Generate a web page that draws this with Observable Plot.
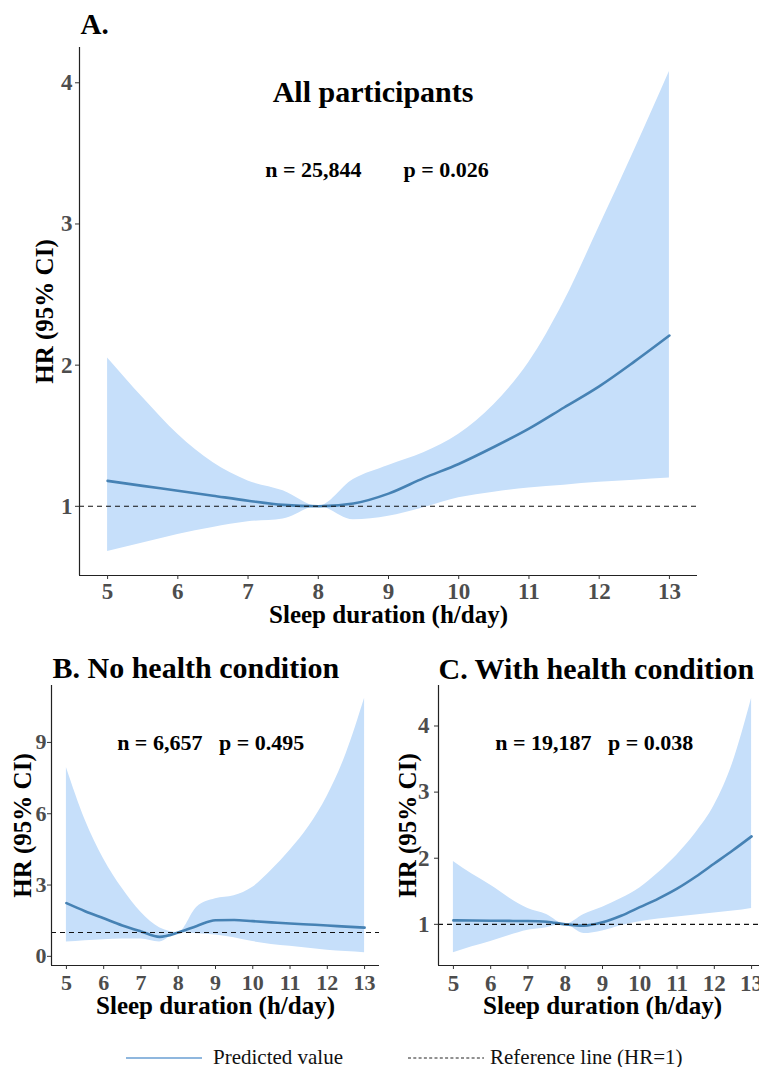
<!DOCTYPE html>
<html>
<head>
<meta charset="utf-8">
<script src="https://cdn.jsdelivr.net/npm/d3@7"></script>
<script src="https://cdn.jsdelivr.net/npm/@observablehq/plot@0.6"></script>
<style>
html, body { margin: 0; padding: 0; background: #fff; }
#wrap { position: relative; width: 759px; height: 1067px; overflow: hidden; background: #fff; }
</style>
</head>
<body>
<div id="wrap"></div>
<script>
// ---------- data ----------
const hours = [5, 5.5, 6, 6.5, 7, 7.5, 8, 8.5, 9, 9.5, 10, 10.5, 11, 11.5, 12, 12.5, 13];

const predA  = [1.18, 1.145, 1.11, 1.075, 1.04, 1.01, 1.0, 1.02, 1.09, 1.2, 1.3, 1.42, 1.55, 1.7, 1.85, 2.025, 2.21];
const lowerA = [0.68, 0.74, 0.80, 0.85, 0.89, 0.91, 1.0, 0.905, 0.93, 0.99, 1.06, 1.10, 1.13, 1.15, 1.17, 1.185, 1.2];
const upperA = [2.05, 1.77, 1.51, 1.31, 1.18, 1.11, 1.0, 1.19, 1.29, 1.38, 1.51, 1.72, 2.02, 2.45, 2.98, 3.52, 4.08];

const predB  = [2.24, 1.9, 1.6, 1.3, 1.05, 0.82, 1.0, 1.28, 1.52, 1.53, 1.48, 1.43, 1.38, 1.34, 1.3, 1.25, 1.21];
const lowerB = [0.6, 0.66, 0.7, 0.73, 0.73, 0.6, 1.0, 0.95, 0.9, 0.78, 0.62, 0.5, 0.42, 0.34, 0.26, 0.2, 0.15];
const upperB = [7.95, 5.75, 4.1, 2.85, 1.85, 1.2, 1.0, 2.07, 2.42, 2.55, 2.91, 3.62, 4.46, 5.45, 6.75, 8.5, 10.86];

const predC  = [1.06, 1.058, 1.055, 1.052, 1.05, 1.04, 1.0, 0.98, 1.03, 1.13, 1.26, 1.39, 1.54, 1.72, 1.92, 2.12, 2.33];
const lowerC = [0.57, 0.66, 0.74, 0.83, 0.91, 0.95, 1.0, 0.86, 0.9, 0.98, 1.04, 1.08, 1.11, 1.14, 1.17, 1.2, 1.24];
const upperC = [1.95, 1.76, 1.59, 1.4, 1.24, 1.15, 1.0, 1.15, 1.26, 1.39, 1.55, 1.78, 2.05, 2.38, 2.8, 3.45, 4.42];

const xTicks  = [5, 6, 7, 8, 9, 10, 11, 12, 13];
const yTicksA = [1, 2, 3, 4];
const yTicksB = [0, 3, 6, 9];
const yTicksC = [1, 2, 3, 4];
const refHR = 1;

const xTitle = "Sleep duration (h/day)";
const yTitle = "HR (95% CI)";
const titles = ["A.", "B. No health condition", "C. With health condition"];

const notesA = [
  {x: 8.78, y: 3.93, label: "All participants", size: 30},
  {x: 7.93, y: 3.38, label: "n = 25,844", size: 22},
  {x: 9.82, y: 3.38, label: "p = 0.026", size: 22}
];
const notesB = [{x: 8.87, y: 8.96, label: "n = 6,657\u00a0\u00a0\u00a0p = 0.495", size: 22}];
const notesC = [{x: 8.78, y: 3.745, label: "n = 19,187\u00a0\u00a0\u00a0p = 0.038", size: 22}];

const legendItems = ["Predicted value", "Reference line (HR=1)"];

// ---------- styles ----------
const SERIF = "'Liberation Serif', 'Times New Roman', Times, serif";
const BAND = "#c6dffa";
const LINE = "#4682b4";
const TICK_TEXT = "#4d4d4d";

function panel(cfg) {
  const rows = hours.map((h, i) => ({h, pred: cfg.pred[i], lo: cfg.lower[i], hi: cfg.upper[i]}));
  const lo = d3.min(cfg.lower), hi = d3.max(cfg.upper);
  const yPad = (hi - lo) * 0.05;
  const yDomain = [lo - yPad, hi + yPad];
  const xPad = (d3.max(hours) - d3.min(hours)) * 0.05;
  const xDomain = [d3.min(hours) - xPad, d3.max(hours) + xPad];
  return Plot.plot({
    width: cfg.width,
    height: cfg.height,
    marginLeft: cfg.ml, marginRight: cfg.mr, marginTop: cfg.mt, marginBottom: cfg.mb,
    x: {domain: xDomain},
    y: {domain: yDomain},
    style: {
      fontFamily: SERIF, background: "transparent", overflow: "visible",
      position: "absolute", left: cfg.left + "px", top: cfg.top + "px", maxWidth: "none"
    },
    marks: [
      Plot.areaY(rows, {x: "h", y1: "lo", y2: "hi", fill: BAND, curve: "monotone-x"}),
      Plot.line(rows, {x: "h", y: "pred", stroke: LINE, strokeWidth: 2.6, curve: "monotone-x"}),
      Plot.ruleY([refHR], {stroke: "#111", strokeWidth: 1.1, strokeDasharray: "5,4"}),
      Plot.ruleX([xDomain[0]], {stroke: "#222", strokeWidth: 1.2}),
      Plot.ruleY([yDomain[0]], {stroke: "#222", strokeWidth: 1.2}),
      Plot.axisX({ticks: xTicks, tickSize: 4, tickPadding: cfg.xtp, fontSize: cfg.tickFont, fontWeight: "bold",
                  fill: TICK_TEXT, stroke: "#333", label: null, tickFormat: d => String(d)}),
      Plot.axisY({ticks: cfg.yTicks, tickSize: 4, tickPadding: cfg.ytp, fontSize: cfg.tickFont, fontWeight: "bold",
                  fill: TICK_TEXT, stroke: "#333", label: null, tickFormat: d => String(d)}),
      Plot.text([xTitle], {text: d => d, frameAnchor: "bottom", lineAnchor: "middle", textAnchor: "middle",
                           dy: cfg.xLabDy, fontSize: 25, fontWeight: "bold", fill: "#000"}),
      Plot.text([yTitle], {text: d => d, frameAnchor: "left", lineAnchor: "middle", textAnchor: "middle",
                           rotate: -90, dx: cfg.yLabDx, fontSize: 25, fontWeight: "bold", fill: "#000"}),
      Plot.text([cfg.title], {text: d => d, frameAnchor: "top-left", lineAnchor: "middle", textAnchor: "start",
                              dx: cfg.tdx, dy: cfg.tdy, fontSize: cfg.titleFont, fontWeight: "bold", fill: "#000"}),
      Plot.text(cfg.notes, {x: "x", y: "y", text: "label", fontSize: d => d.size, fontWeight: "bold", fill: "#000"})
    ]
  });
}

const wrap = document.getElementById("wrap");

wrap.appendChild(panel({
  pred: predA, lower: lowerA, upper: upperA, yTicks: yTicksA, notes: notesA, title: titles[0],
  left: 0, top: 0, width: 759, height: 640, ml: 79, mr: 62, mt: 47, mb: 65,
  tickFont: 23, xtp: 3, ytp: 3, xLabDy: 39, yLabDx: -35, titleFont: 29, tdx: 1, tdy: -23
}));

wrap.appendChild(panel({
  pred: predB, lower: lowerB, upper: upperB, yTicks: yTicksB, notes: notesB, title: titles[1],
  left: 0, top: 640, width: 390, height: 385, ml: 51, mr: 11, mt: 45, mb: 60,
  tickFont: 22, xtp: 5, ytp: 1, xLabDy: 40, yLabDx: -29, titleFont: 30, tdx: 1, tdy: -17.6
}));

wrap.appendChild(panel({
  pred: predC, lower: lowerC, upper: upperC, yTicks: yTicksC, notes: notesC, title: titles[2],
  left: 380, top: 640, width: 390, height: 385, ml: 58, mr: 4, mt: 45, mb: 60,
  tickFont: 23, xtp: 5, ytp: 5, xLabDy: 40, yLabDx: -31, titleFont: 30, tdx: 0, tdy: -16.6
}));

// ---------- legend ----------
const NS = "http://www.w3.org/2000/svg";
const leg = document.createElementNS(NS, "svg");
leg.setAttribute("width", 759);
leg.setAttribute("height", 1067);
leg.style.position = "absolute";
leg.style.left = "0px";
leg.style.top = "0px";
leg.style.pointerEvents = "none";
leg.innerHTML = `
  <line x1="126" x2="202" y1="1058" y2="1058" stroke="#6a9fd3" stroke-width="1.4"/>
  <text x="213" y="1063.5" style="font-family: 'Liberation Serif', 'Times New Roman', serif; font-size: 21px;" fill="#111">${legendItems[0]}</text>
  <line x1="408" x2="484" y1="1058" y2="1058" stroke="#222" stroke-width="1" stroke-dasharray="3,2.3"/>
  <text x="490" y="1063.5" style="font-family: 'Liberation Serif', 'Times New Roman', serif; font-size: 21px;" fill="#111">${legendItems[1]}</text>
`;
wrap.appendChild(leg);
</script>
</body>
</html>
